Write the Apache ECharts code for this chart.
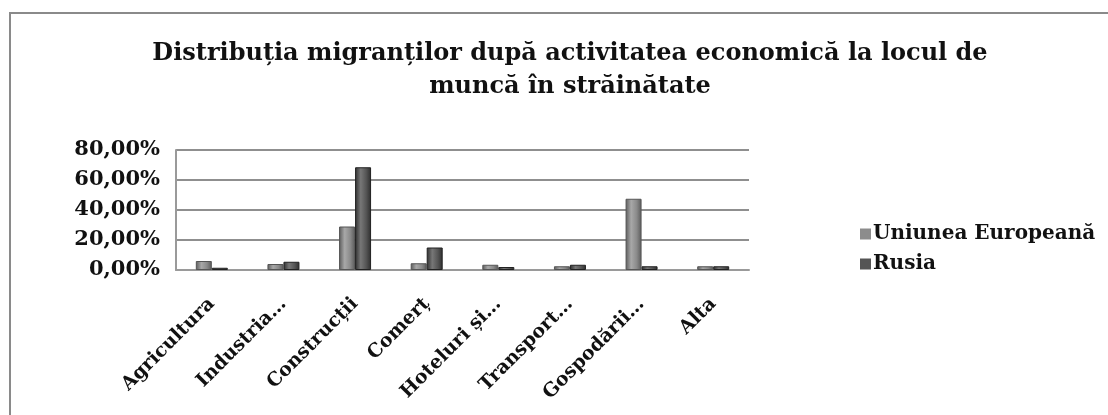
<!DOCTYPE html>
<html>
<head>
<meta charset="utf-8">
<script src="https://cdn.jsdelivr.net/npm/echarts@6/dist/echarts.min.js"></script>
<style>
html,body{margin:0;padding:0;background:#fff;overflow:hidden;}
#frame{position:absolute;left:9px;top:12px;width:1120px;height:420px;border:2px solid #8a8a8a;box-sizing:border-box;}
#chart{position:absolute;left:0;top:0;width:1108px;height:415px;}
</style>
</head>
<body>
<div id="frame"></div>
<div id="chart"></div>
<script>
const titleLines = ['Distribuția migranților după activitatea economică la locul de', 'muncă în străinătate'];
const categories = ['Agricultura', 'Industria…', 'Construcții', 'Comerț', 'Hoteluri și…', 'Transport…', 'Gospodării…', 'Alta'];
const seriesNames = ['Uniunea Europeană', 'Rusia'];
const ueValues = [6, 4, 29, 4.5, 3.5, 2.5, 47.5, 2.5];
const rusiaValues = [1.5, 5.5, 68.5, 15, 2, 3.5, 2.5, 2.5];
const yTicks = [0, 20, 40, 60, 80];

const FONT = 'DejaVu Serif';
const chart = echarts.init(document.getElementById('chart'), null, {renderer: 'canvas'});

function cyl(base, light, dark) {
  return new echarts.graphic.LinearGradient(0, 0, 1, 0, [
    {offset: 0, color: dark},
    {offset: 0.35, color: light},
    {offset: 0.7, color: base},
    {offset: 1, color: dark}
  ]);
}

chart.setOption({
  animation: false,
  backgroundColor: 'transparent',
  title: {
    text: titleLines.join('\n'),
    left: 565,
    top: 32,
    textAlign: 'center',
    textStyle: {fontFamily: FONT, fontWeight: 'bold', fontSize: 24, color: '#111', lineHeight: 33}
  },
  legend: {
    data: [
      {name: seriesNames[0], itemStyle: {color: '#8c8c8c', borderWidth: 0}},
      {name: seriesNames[1], itemStyle: {color: '#555555', borderWidth: 0}}
    ],
    orient: 'vertical',
    left: 855,
    top: 219,
    itemWidth: 11,
    itemHeight: 11,
    itemGap: 10,
    icon: 'rect',
    textStyle: {fontFamily: FONT, fontWeight: 'bold', fontSize: 20, color: '#111', padding: [0, 0, 0, -3]}
  },
  grid: {left: 176, right: 359, top: 150, bottom: 145, containLabel: false},
  xAxis: {
    type: 'category',
    data: categories,
    axisLine: {show: true, lineStyle: {color: '#9a9a9a', width: 2}},
    axisTick: {show: false},
    axisLabel: {
      rotate: 45,
      margin: 31,
      interval: 0,
      fontFamily: FONT,
      fontWeight: 'bold',
      fontSize: 19,
      color: '#111'
    }
  },
  yAxis: {
    type: 'value',
    min: yTicks[0],
    max: yTicks[yTicks.length - 1],
    interval: 20,
    axisLine: {show: true, lineStyle: {color: '#9a9a9a', width: 2}},
    axisTick: {show: false},
    splitLine: {show: true, lineStyle: {color: '#8f8f8f', width: 2}},
    axisLabel: {
      margin: 16,
      fontFamily: FONT,
      fontWeight: 'bold',
      fontSize: 21,
      color: '#111',
      formatter: v => v.toFixed(2).replace('.', ',') + '%'
    }
  },
  series: [
    {
      name: seriesNames[0],
      type: 'bar',
      data: ueValues,
      barWidth: 16,
      barGap: '0%',
      itemStyle: {color: cyl('#8a8a8a', '#a8a8a8', '#5a5a5a'), borderColor: '#555', borderWidth: 1}
    },
    {
      name: seriesNames[1],
      type: 'bar',
      data: rusiaValues,
      barWidth: 16,
      barGap: '0%',
      itemStyle: {color: cyl('#555555', '#777777', '#2e2e2e'), borderColor: '#222', borderWidth: 1}
    }
  ]
});
</script>
</body>
</html>
